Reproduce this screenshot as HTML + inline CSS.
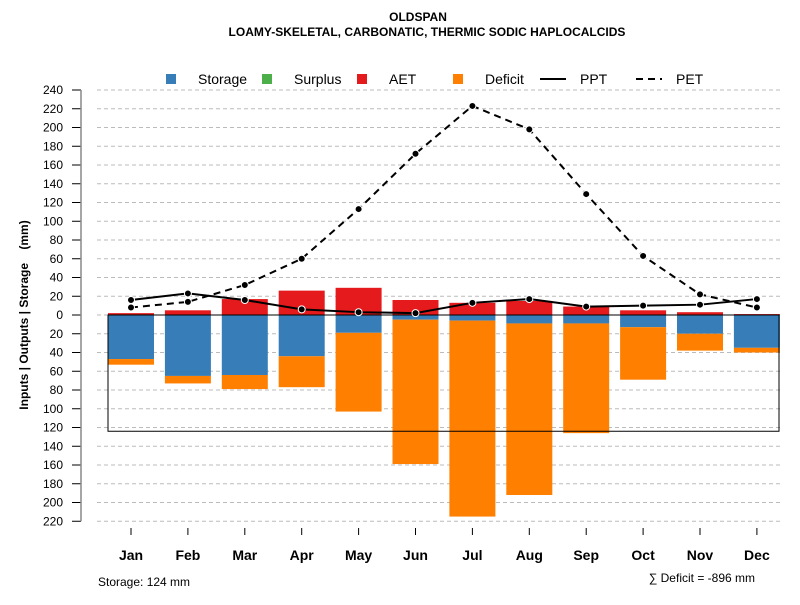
<!DOCTYPE html>
<html><head><meta charset="utf-8"><style>body{margin:0;background:#fff}svg{font-family:"Liberation Sans",sans-serif}</style></head>
<body>
<svg id="c" width="800" height="600">
<text x="418" y="21" text-anchor="middle" font-size="12" font-weight="bold">OLDSPAN</text>
<text x="427" y="36" text-anchor="middle" font-size="12" font-weight="bold">LOAMY-SKELETAL, CARBONATIC, THERMIC SODIC HAPLOCALCIDS</text>
<g>
<rect x="166" y="74" width="10" height="10" fill="#377eb8"/><text x="198" y="84" font-size="14">Storage</text>
<rect x="262" y="74" width="10" height="10" fill="#4daf4a"/><text x="294" y="84" font-size="14">Surplus</text>
<rect x="357" y="74" width="10" height="10" fill="#e41a1c"/><text x="389" y="84" font-size="14">AET</text>
<rect x="453" y="74" width="10" height="10" fill="#ff7f00"/><text x="485" y="84" font-size="14">Deficit</text>
<line x1="540" y1="79" x2="566" y2="79" stroke="#000" stroke-width="2"/><text x="580" y="84" font-size="14">PPT</text>
<line x1="636" y1="79" x2="662" y2="79" stroke="#000" stroke-width="2" stroke-dasharray="7,5"/><text x="676" y="84" font-size="14">PET</text>
</g>
<g id="grid"></g><g id="bars"></g><g id="lines"></g><g id="axes"></g>
<text transform="translate(28,315) rotate(-90)" text-anchor="middle" font-size="12" font-weight="bold" xml:space="preserve">Inputs | Outputs | Storage    (mm)</text>
<text x="98" y="586" font-size="12">Storage: 124 mm</text>
<text x="755" y="582" text-anchor="end" font-size="12">∑ Deficit = -896 mm</text>
</svg>
<script>
const months=["Jan","Feb","Mar","Apr","May","Jun","Jul","Aug","Sep","Oct","Nov","Dec"];
const aet=[2,5,17,26,29,16,13,15,9,5,3,1];
const storageDraw=[47,65,64,44,19,5,6,9,9,13,20,35];
const deficit=[6,8,15,33,84,154,209,183,117,56,18,5];
const ppt=[16,23,16,6,3,2,13,17,9,10,11,17];
const pet=[8,14,32,60,113,172,223,198,129,63,22,8];
const yTicks=[240,220,200,180,160,140,120,100,80,60,40,20,0,-20,-40,-60,-80,-100,-120,-140,-160,-180,-200,-220];
const storageCap=124;
const NS="http://www.w3.org/2000/svg";
const Y=v=>315-v*0.9375, X=i=>131+i*56.9;
function mk(p,t,a){const e=document.createElementNS(NS,t);for(const k in a)e.setAttribute(k,a[k]);document.getElementById(p).appendChild(e);return e;}
yTicks.forEach(v=>{
 const g=mk("grid","line",{x1:97,x2:780,y1:Y(v),y2:Y(v),stroke:"#bbb","stroke-dasharray":"4,3"});
 
 
 const t=mk("axes","line",{x1:72,x2:81,y1:Y(v),y2:Y(v),stroke:"#000"});
 
 
 const l=mk("axes","text",{x:63,y:Y(v)+4,"text-anchor":"end","font-size":12});
 l.textContent=Math.abs(v);
 
 
});
const ax=mk("axes","line",{x1:81,x2:81,y1:Y(240),y2:Y(-220),stroke:"#888","stroke-width":1.5});


const bw=46;
months.forEach((m,i)=>{
 const x=X(i)-bw/2;
 const a=mk("bars","rect",{x:x,y:Y(aet[i]),width:bw,height:aet[i]*0.9375,fill:"#e41a1c"});
 
 
 const s=mk("bars","rect",{x:x,y:Y(0),width:bw,height:storageDraw[i]*0.9375,fill:"#377eb8"});
 
 
 const d=mk("bars","rect",{x:x,y:Y(-storageDraw[i]),width:bw,height:deficit[i]*0.9375,fill:"#ff7f00"});
 
 
 const t=mk("axes","line",{x1:X(i),x2:X(i),y1:528,y2:535,stroke:"#000"});
 
 
 const l=mk("axes","text",{x:X(i),y:560,"text-anchor":"middle","font-size":14,"font-weight":"bold"});
 l.textContent=m;
 
 
});
const sb=mk("bars","rect",{x:108,y:Y(0),width:671,height:storageCap*0.9375,fill:"none",stroke:"#000"});


const zl=mk("bars","line",{x1:108,x2:779,y1:Y(0),y2:Y(0),stroke:"#000"});


[[ppt,"none","ppt"],[pet,"7,5","pet"]].forEach(([arr,da,n])=>{
 const p=mk("lines","polyline",{points:arr.map((v,i)=>X(i)+","+Y(v)).join(" "),fill:"none",stroke:"#000","stroke-width":2,"stroke-dasharray":da});
 
 
 arr.forEach((v,i)=>{
  const c=mk("lines","circle",{cx:X(i),cy:Y(v),r:3.5,fill:"#000",stroke:"#fff","stroke-width":1});
  
  
 });
});
</script>
</body></html>
